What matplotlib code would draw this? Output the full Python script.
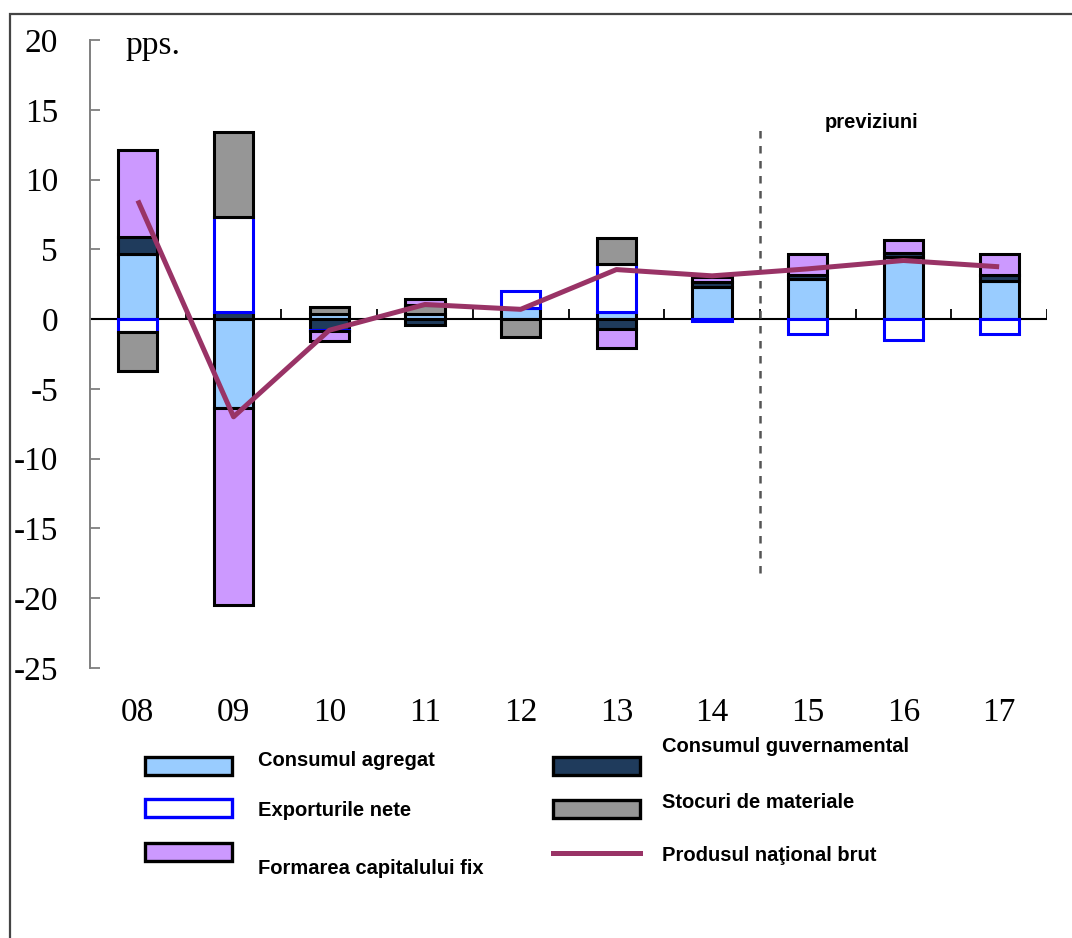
import matplotlib
matplotlib.use("Agg")
import matplotlib.pyplot as plt
from matplotlib import font_manager
from matplotlib.patches import Rectangle
from matplotlib.lines import Line2D
import numpy as np

# contributii la cresterea PIB, puncte procentuale
years = ['08', '09', '10', '11', '12', '13', '14', '15', '16', '17']
consum_agregat = [4.7, -6.4, 0.4, 0.35, 0.8, 0.5, 2.3, 2.85, 4.45, 2.7]
consum_guv = [1.2, 0.5, -0.75, -0.45, 0.0, -0.7, 0.35, 0.3, 0.3, 0.45]
exporturi_nete = [-0.9, 6.8, -0.1, 0.0, 1.2, 3.45, -0.15, -1.05, -1.5, -1.05]
stocuri = [-2.8, 6.1, 0.45, 0.65, -1.3, 1.85, 0.0, 0.0, 0.0, 0.0]
formare_capital = [6.25, -14.1, -0.75, 0.45, 0.0, -1.4, 0.35, 1.55, 0.95, 1.55]
pnb = [8.5, -7.0, -0.8, 1.05, 0.7, 3.55, 3.1, 3.6, 4.2, 3.75]

yticks = [20, 15, 10, 5, 0, -5, -10, -15, -20, -25]

plt.rcParams['axes.unicode_minus'] = False

names = {f.name for f in font_manager.fontManager.ttflist}
if 'Liberation Sans Narrow' in names:
    leg_font = dict(family='Liberation Sans Narrow', weight='bold', size=17)
else:
    leg_font = dict(family='Liberation Sans', weight='bold', size=14.5)
serif = dict(family='Liberation Serif', size=24)

W, H = 1072, 938
fig = plt.figure(figsize=(W / 100, H / 100), dpi=100)
ax = fig.add_axes([90 / W, 1 - 668 / H, (1047 - 90) / W, (668 - 40) / H])

series = [
    (consum_agregat, '#99CCFF', 'black', 'Consumul agregat'),
    (consum_guv, '#1F3B5C', 'black', 'Consumul guvernamental'),
    (exporturi_nete, 'white', '#0000FF', 'Exporturile nete'),
    (stocuri, '#969696', 'black', 'Stocuri de materiale'),
    (formare_capital, '#CC99FF', 'black', 'Formarea capitalului fix'),
]

x = np.arange(len(years))
pos_base = np.zeros(len(years))
neg_base = np.zeros(len(years))
for vals, fc, ec, lab in series:
    vals = np.array(vals)
    for i, v in enumerate(vals):
        if v == 0:
            continue
        base = pos_base[i] if v > 0 else neg_base[i]
        ax.bar(x[i], v, bottom=base, width=0.41, color=fc, edgecolor=ec,
               linewidth=2.2, zorder=3)
        if v > 0:
            pos_base[i] += v
        else:
            neg_base[i] += v

ax.plot(x, pnb, color='#993366', linewidth=3.6, zorder=5,
        solid_capstyle='butt')

# axa orizontala la zero, cu diviziuni intre ani
ax.axhline(0, color='black', linewidth=1.5, zorder=2)
ax.vlines(np.arange(len(years)) + 0.5, 0, 0.7, color='black', linewidth=1.3,
          zorder=2)

# separare previziuni
ax.vlines(6.5, -18.2, 13.9, color='#555555', linewidth=1.8,
          linestyles=(0, (3, 3)), zorder=4)
ax.text(7.18, 14.1, 'previziuni', va='center', ha='left', **leg_font)
ax.text(-0.13, 19.6, 'pps.', va='center', ha='left', **serif)

ax.set_xlim(-0.5, len(years) - 0.5)
ax.set_ylim(-25, 20)
ax.set_yticks(yticks)
ax.set_yticklabels([str(t) for t in yticks], **serif)
ax.set_xticks(x)
ax.set_xticklabels(years, **serif)
ax.tick_params(axis='x', length=0, pad=21)
ax.tick_params(axis='y', direction='in', length=7, width=1.3,
               color='#7f7f7f', pad=23)
for s in ['top', 'right', 'bottom']:
    ax.spines[s].set_visible(False)
ax.spines['left'].set_color('#7f7f7f')
ax.spines['left'].set_linewidth(1.4)
ax.patch.set_alpha(0)


def fx(px):
    return px / W


def fy(py):
    return 1 - py / H


# legenda
def leg_box(x0, yc, fc, ec):
    fig.add_artist(Rectangle((fx(x0), fy(yc + 9)), fx(87), 18 / H,
                             facecolor=fc, edgecolor=ec, linewidth=2.4,
                             transform=fig.transFigure))


leg_items = [
    (145, 766, 258, 760, series[0]),
    (145, 808, 258, 810, series[2]),
    (145, 852, 258, 868, series[4]),
    (553, 766, 662, 746, series[1]),
    (553, 809, 662, 802, series[3]),
]
for bx, by, tx, ty, (vals, fc, ec, lab) in leg_items:
    leg_box(bx, by, fc, ec)
    fig.text(fx(tx), fy(ty), lab, va='center', ha='left', **leg_font)

fig.add_artist(Line2D([fx(553), fx(640)], [fy(853), fy(853)],
                      color='#993366', linewidth=3.6,
                      transform=fig.transFigure))
fig.text(fx(662), fy(855), 'Produsul naţional brut', va='center', ha='left',
         **leg_font)

# chenar exterior
fig.add_artist(Rectangle((fx(10), -0.1), 1.2, fy(14) + 0.1, fill=False,
                         edgecolor='#444444', linewidth=1.6,
                         transform=fig.transFigure))

fig.savefig('out.png', dpi=100)
